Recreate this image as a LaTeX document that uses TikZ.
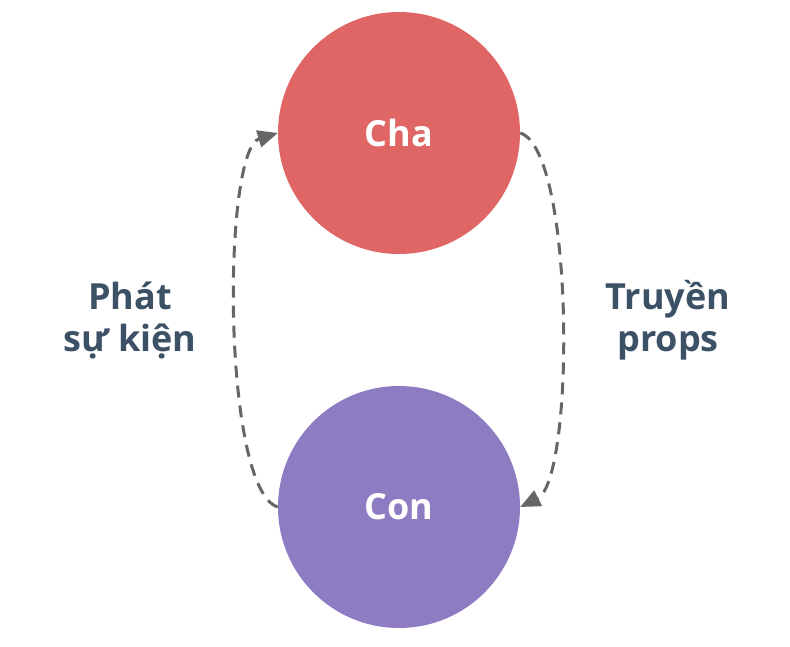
\documentclass[tikz,border=0pt]{standalone}
\usepackage{fontspec}
\setmainfont{Open Sans}
\usetikzlibrary{arrows.meta}
\tikzset{>={Triangle[length=20pt,width=17pt]}}
\definecolor{chared}{HTML}{E06666}
\definecolor{conpurple}{HTML}{8E7CC3}
\definecolor{labelblue}{HTML}{3D5166}
\definecolor{flowgrey}{HTML}{666666}
\tikzstyle{ball}=[circle,minimum size=242pt,inner sep=0,text=white,font=\bfseries\fontsize{36}{44}\selectfont]
\tikzstyle{flow}=[->,line width=3pt,flowgrey,dash pattern=on 12pt off 8pt]
\tikzstyle{caption}=[align=center,text=labelblue,font=\bfseries\fontsize{36}{42}\selectfont]

\begin{document}
\begin{tikzpicture}[x=1pt,y=-1pt]
  \useasboundingbox (0,0) rectangle (790,646);
  
  % CIRCLES
  \node[ball,fill=chared]    (cha) at (399,133) {Cha};
  \node[ball,fill=conpurple] (con) at (399,507) {Con};
  
  % FLOWS
  \draw[flow] (cha.east) .. controls (575,150) and (575,480) .. (con.east);
  \draw[flow] (con.west) .. controls (222,490) and (222,150) .. (cha.west);
  
  % LABELS
  \node[caption] (emit)  at (130,320) {Phát\\sự kiện};
  \node[caption] (props) at (668,320) {Truyền\\props};
\end{tikzpicture}
\end{document}
